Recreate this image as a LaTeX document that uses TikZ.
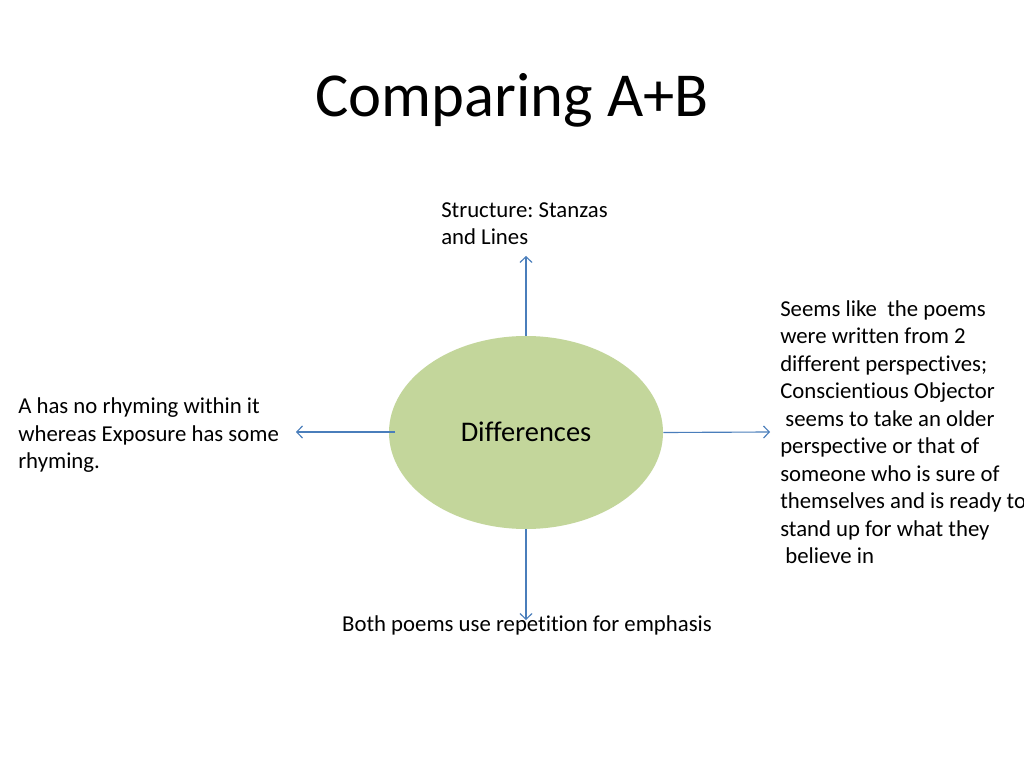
\documentclass[tikz,border=0pt]{standalone}
\usepackage{fontspec}
\setmainfont{Carlito}[Ligatures=NoCommon]
\usetikzlibrary{arrows.meta,shapes.geometric}
\definecolor{ellfill}{HTML}{C3D69B}
\definecolor{arrblue}{HTML}{4A7EBB}
\tikzset{
  label16/.style={inner sep=0pt, font=\fontsize{16}{19.3}\selectfont, align=left},
  conn/.style={draw=arrblue, line width=0.8pt, -{Straight Barb[length=4pt,width=8.5pt]}}
}
\frenchspacing
\begin{document}
\begin{tikzpicture}[x=0.703125pt,y=-0.703125pt]
\useasboundingbox[fill=white] (0,0) rectangle (1024,768);
\node[inner sep=0pt, font=\fontsize{44}{52}\selectfont, anchor=base] (title) at (512,117) {Comparing A+B};
\node[ellipse, fill=ellfill, minimum width=274*0.703125pt, minimum height=193*0.703125pt, inner sep=0pt] (diff) at (526,432.5) {};
\node[inner sep=0pt, font=\fontsize{20}{24}\selectfont, anchor=base] (difft) at (526,441.5) {Differences};
\node[label16, anchor=base west] (top) at (441,245) {Structure: Stanzas\\and Lines};
\node[label16, anchor=base west] (right) at (780,563.5) {Seems like\ \ the poems\\were written from 2\\different perspectives;\\Conscientious Objector\\\ seems to take an older\\perspective or that of\\someone who is sure of\\themselves and is ready to\\stand up for what they\\\ believe in};
\node[label16, anchor=base west] (left) at (18,468.5) {A has no rhyming within it\\whereas Exposure has some\\rhyming.};
\node[label16, anchor=base] (bottom) at (527,631.5) {Both poems use repetition for emphasis};
\coordinate (ctop) at (526,256);
\coordinate (cbot) at (526,620);
\coordinate (cleft) at (296,432);
\coordinate (cright) at (770,432);
\coordinate (sleft) at (395,432);
\draw[conn] (diff.north) -- (ctop);
\draw[conn] (diff.south) -- (cbot);
\draw[conn] (sleft) -- (cleft);
\draw[conn] (diff.east) -- (cright);
\end{tikzpicture}
\end{document}
